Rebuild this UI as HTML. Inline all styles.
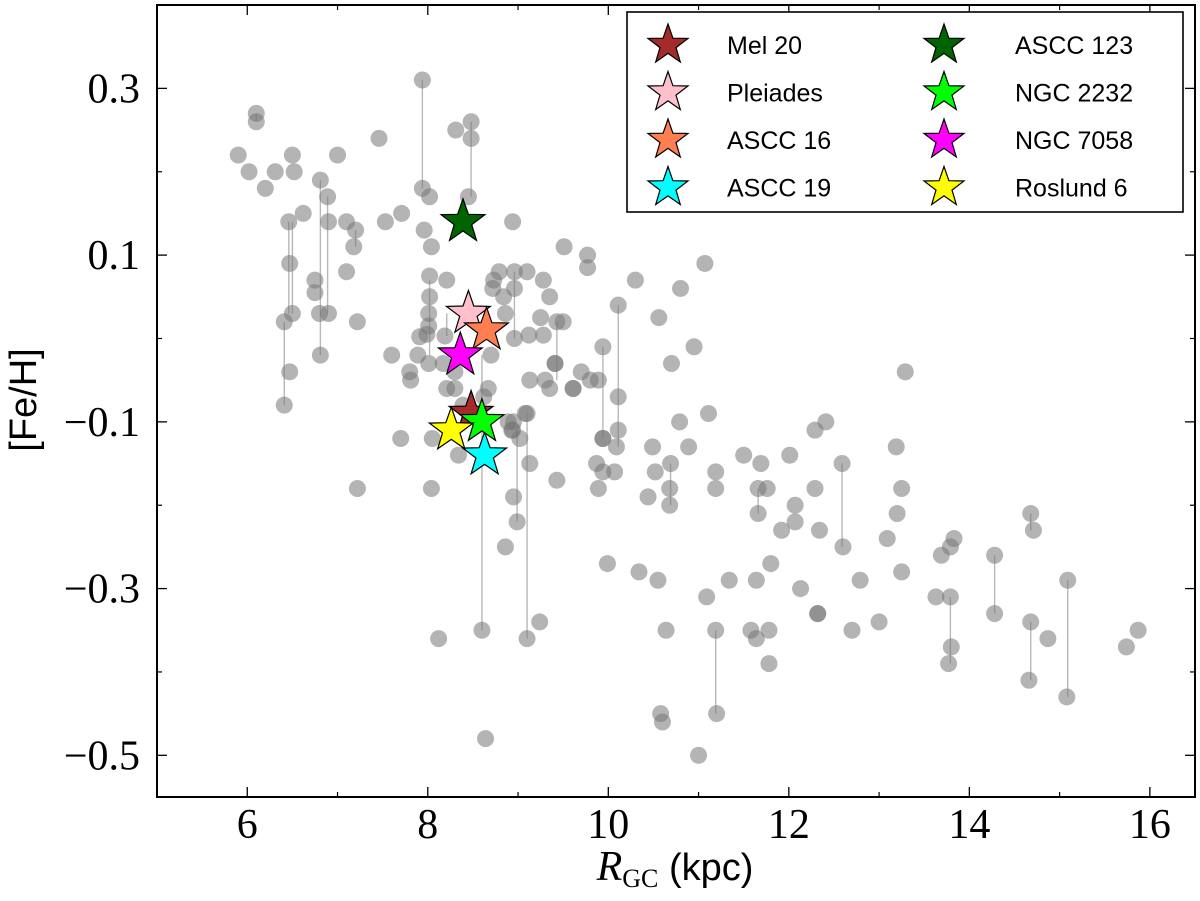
<!DOCTYPE html>
<html><head><meta charset="utf-8"><style>
html,body{margin:0;padding:0;background:#fff;}
svg{display:block;}
</style></head><body>
<svg id="chart" width="1200" height="901" viewBox="0 0 1200 901" xmlns="http://www.w3.org/2000/svg">
<rect x="0" y="0" width="1200" height="901" fill="#fff"/>
<g id="lines"></g><g id="points"></g><g id="stars"></g><g id="axes"></g>
<text x="36" y="400" transform="rotate(-90 36 400)" text-anchor="middle" font-family="Liberation Sans, sans-serif" font-size="38">[Fe/H]</text>
<text x="675" y="880" text-anchor="middle"><tspan font-family="Liberation Serif, serif" font-style="italic" font-size="42">R</tspan><tspan font-family="Liberation Serif, serif" font-size="26" dy="7">GC</tspan><tspan font-family="Liberation Sans, sans-serif" font-size="38" dy="-7"> (kpc)</tspan></text>
<g id="legend"></g>
</svg>
<script>
const xTicks=[6,8,10,12,14,16];
const xMinor=[7,9,11,13,15];
const yTicks=[0.3,0.1,-0.1,-0.3,-0.5];
const yMinor=[0.2,0,-0.2,-0.4];
const ptX=[7.94,6.10,6.10,8.48,8.48,8.31,7.46,5.90,6.50,7.00,6.02,6.31,6.52,6.81,6.20,6.89,7.94,8.02,8.45,6.46,6.62,6.90,7.10,7.20,7.53,7.71,7.96,8.04,8.94,7.18,6.47,7.10,6.75,6.75,8.02,8.21,8.02,6.50,6.80,6.90,6.41,7.22,8.01,8.01,7.99,7.91,8.19,6.81,7.60,7.89,8.01,8.17,8.70,6.47,7.80,7.81,8.30,8.21,8.30,8.67,8.62,6.41,8.39,9.08,8.89,8.94,9.02,7.70,8.05,8.34,9.13,7.22,8.04,8.95,8.79,8.96,9.10,9.28,8.73,8.72,8.96,8.84,9.35,8.86,9.25,9.43,9.50,8.96,9.12,9.28,9.41,9.41,9.13,9.30,9.35,9.61,9.61,9.70,9.80,9.89,9.10,8.95,8.93,9.43,10.11,10.11,9.94,10.09,9.87,9.94,10.07,9.89,10.79,11.11,10.49,10.89,10.69,10.52,10.44,10.68,10.68,11.19,11.19,11.50,11.69,11.66,11.76,11.66,12.01,12.29,12.41,12.29,12.07,12.07,11.92,12.34,12.59,12.60,9.51,9.77,9.77,11.07,10.30,10.80,10.11,9.94,9.94,10.56,10.95,10.70,13.29,13.19,13.25,13.20,13.09,14.68,14.71,13.83,13.79,13.69,14.28,14.28,11.80,11.34,11.64,12.13,12.79,13.25,11.09,13.63,13.79,13.77,13.80,15.09,15.08,12.32,12.32,13.00,14.68,14.66,14.87,11.19,11.20,11.58,11.64,11.78,11.78,12.70,15.87,15.74,8.99,8.86,8.60,9.10,9.24,8.12,9.99,10.34,10.55,10.64,10.58,10.60,8.64,11.00];
const ptY=[0.31,0.27,0.26,0.26,0.24,0.25,0.24,0.22,0.22,0.22,0.20,0.20,0.20,0.19,0.18,0.17,0.18,0.17,0.17,0.14,0.15,0.14,0.14,0.13,0.14,0.15,0.13,0.11,0.14,0.11,0.09,0.08,0.07,0.055,0.075,0.07,0.05,0.03,0.03,0.03,0.02,0.02,0.03,0.015,0.005,0.002,0.003,-0.02,-0.02,-0.02,-0.03,-0.03,-0.02,-0.04,-0.04,-0.05,-0.04,-0.06,-0.06,-0.06,-0.07,-0.08,-0.08,-0.09,-0.10,-0.11,-0.12,-0.12,-0.12,-0.14,-0.15,-0.18,-0.18,-0.19,0.08,0.08,0.08,0.07,0.07,0.06,0.06,0.05,0.05,0.03,0.025,0.02,0.02,0.0,0.004,0.004,-0.03,-0.03,-0.05,-0.05,-0.06,-0.06,-0.06,-0.04,-0.05,-0.05,-0.09,-0.10,-0.11,-0.17,-0.07,-0.11,-0.12,-0.13,-0.15,-0.16,-0.16,-0.18,-0.10,-0.09,-0.13,-0.13,-0.15,-0.16,-0.19,-0.18,-0.20,-0.16,-0.18,-0.14,-0.15,-0.18,-0.18,-0.21,-0.14,-0.11,-0.10,-0.18,-0.20,-0.22,-0.23,-0.23,-0.15,-0.25,0.11,0.10,0.085,0.09,0.07,0.06,0.04,-0.01,-0.12,0.025,-0.01,-0.03,-0.04,-0.13,-0.18,-0.21,-0.24,-0.21,-0.23,-0.24,-0.25,-0.26,-0.26,-0.33,-0.27,-0.29,-0.29,-0.30,-0.29,-0.28,-0.31,-0.31,-0.31,-0.39,-0.37,-0.29,-0.43,-0.33,-0.33,-0.34,-0.34,-0.41,-0.36,-0.35,-0.45,-0.35,-0.36,-0.35,-0.39,-0.35,-0.35,-0.37,-0.22,-0.25,-0.35,-0.36,-0.34,-0.36,-0.27,-0.28,-0.29,-0.35,-0.45,-0.46,-0.48,-0.50];
const lineX=[7.94,8.48,6.10,6.46,6.50,6.81,6.89,7.20,6.41,8.02,8.21,8.96,8.60,9.10,8.99,10.11,9.94,9.43,10.69,11.66,12.59,11.19,13.79,14.28,15.09,14.68,14.68];
const lineY1=[0.31,0.26,0.27,0.14,0.14,0.19,0.17,0.13,0.02,0.07,0.03,0.08,-0.02,-0.09,-0.11,0.04,-0.01,0.02,-0.15,-0.18,-0.15,-0.35,-0.31,-0.26,-0.29,-0.34,-0.21];
const lineY2=[0.18,0.17,0.26,0.03,0.03,-0.02,0.03,0.11,-0.08,-0.02,0.003,0.0,-0.35,-0.36,-0.22,-0.13,-0.12,-0.05,-0.20,-0.21,-0.25,-0.45,-0.39,-0.33,-0.43,-0.41,-0.23];
const clusterNames=["Mel 20","Pleiades","ASCC 16","ASCC 19","ASCC 123","NGC 2232","NGC 7058","Roslund 6"];
const clusterX=[8.48,8.45,8.65,8.63,8.39,8.60,8.36,8.26];
const clusterY=[-0.09,0.03,0.01,-0.14,0.14,-0.10,-0.02,-0.11];
const clusterColors=["#a52a2a","#ffc0cb","#ff7f50","#00ffff","#006400","#00ff00","#ff00ff","#ffff00"];

const L=157,R=1195,T=5,B=797,X0=5,X1=16.5,Y0=-0.55,Y1=0.4;
const sx=v=>L+(v-X0)/(X1-X0)*(R-L);
const sy=v=>B-(v-Y0)/(Y1-Y0)*(B-T);
const NS="http://www.w3.org/2000/svg";
function mk(tag,attrs,parent){const e=document.createElementNS(NS,tag);for(const k in attrs)e.setAttribute(k,attrs[k]);parent.appendChild(e);return e;}
function starPts(cx,cy,r){const ri=r*0.4;let p=[];for(let i=0;i<10;i++){const a=-Math.PI/2+i*Math.PI/5;const rr=i%2?ri:r;p.push((cx+rr*Math.cos(a)).toFixed(1)+","+(cy+rr*Math.sin(a)).toFixed(1));}return p.join(" ");}

const gl=document.getElementById('lines');
lineX.forEach((x,i)=>{const e=mk('line',{x1:sx(x),x2:sx(x),y1:sy(lineY1[i]),y2:sy(lineY2[i]),stroke:'#888','stroke-opacity':0.6,'stroke-width':1.4},gl);

});
const gp=document.getElementById('points');
ptX.forEach((x,i)=>{const e=mk('circle',{cx:sx(x),cy:sy(ptY[i]),r:8.5,fill:'#777','fill-opacity':0.55},gp);

});
const gs=document.getElementById('stars');
clusterX.forEach((x,i)=>{const e=mk('polygon',{points:starPts(sx(x),sy(clusterY[i]),23),fill:clusterColors[i],stroke:'#000','stroke-width':1.2,'stroke-linejoin':'miter'},gs);

});

const ga=document.getElementById('axes');
const fr=mk('rect',{x:L,y:T,width:R-L,height:B-T,fill:'none',stroke:'#000','stroke-width':2},ga);


xTicks.forEach(v=>{const x=sx(v);mk('line',{x1:x,x2:x,y1:B,y2:B-10,stroke:'#000','stroke-width':1.3},ga);mk('line',{x1:x,x2:x,y1:T,y2:T+10,stroke:'#000','stroke-width':1.3},ga);
const t=mk('text',{x:x,y:838,'text-anchor':'middle','font-family':'Liberation Serif, serif','font-size':42},ga);t.textContent=v;

});
xMinor.forEach(v=>{const x=sx(v);mk('line',{x1:x,x2:x,y1:B,y2:B-5,stroke:'#000','stroke-width':1.2},ga);mk('line',{x1:x,x2:x,y1:T,y2:T+5,stroke:'#000','stroke-width':1.2},ga);});
yTicks.forEach(v=>{const y=sy(v);mk('line',{x1:L,x2:L+10,y1:y,y2:y,stroke:'#000','stroke-width':1.3},ga);mk('line',{x1:R,x2:R-10,y1:y,y2:y,stroke:'#000','stroke-width':1.3},ga);
const t=mk('text',{x:140,y:y+14,'text-anchor':'end','font-family':'Liberation Serif, serif','font-size':42},ga);t.textContent=(v<0?'\u2212':'')+Math.abs(v).toFixed(1);

});
yMinor.forEach(v=>{const y=sy(v);mk('line',{x1:L,x2:L+5,y1:y,y2:y,stroke:'#000','stroke-width':1.2},ga);mk('line',{x1:R,x2:R-5,y1:y,y2:y,stroke:'#000','stroke-width':1.2},ga);});

const lg=document.getElementById('legend');
mk('rect',{x:627,y:12,width:556,height:200,fill:'#fff',stroke:'#000','stroke-width':1.6},lg);
clusterNames.forEach((n,i)=>{const col=Math.floor(i/4),row=i%4;const cx=col?944:668,cy=45+row*47.5;
const s=mk('polygon',{points:starPts(cx,cy,21),fill:clusterColors[i],stroke:'#000','stroke-width':1.2},lg);


const t=mk('text',{x:col?1015:727,y:cy+9,'font-family':'Liberation Sans, sans-serif','font-size':25},lg);t.textContent=n;

});
</script>
</body></html>
